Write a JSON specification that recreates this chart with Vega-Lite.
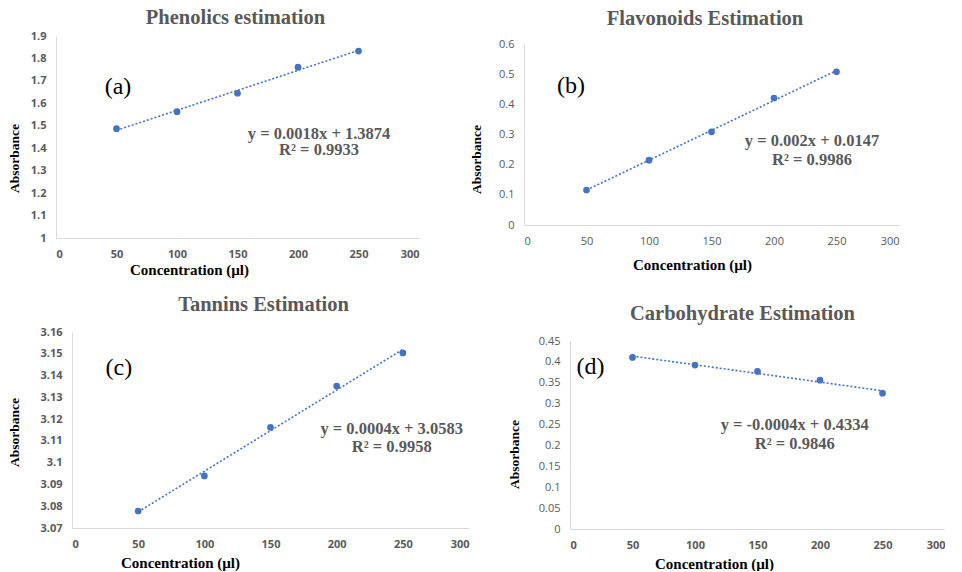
{
  "$schema": "https://vega.github.io/schema/vega-lite/v6.json",
  "background": "white",
  "padding": {"left": 7, "top": 8, "right": 0, "bottom": 0},
  "config": {
    "view": {"stroke": null},
    "axis": {
      "grid": false, "ticks": false, "domainColor": "#d9d9d9", "domainWidth": 1, "labelOverlap": false,
      "labelFont": "Open Sans", "labelFontSize": 11, "labelColor": "#595959", "labelPadding": 10,
      "titleFont": "Liberation Serif", "titleFontWeight": "bold", "titleColor": "#000000", "titleFontSize": 15
    },
    "axisY": {"titleFontSize": 13.5, "titleAlign": "center", "titleBaseline": "middle", "titleAngle": -90},
    "axisX": {"titleAlign": "center", "titleBaseline": "middle"},
    "title": {"font": "Liberation Serif", "fontSize": 20.5, "fontWeight": "bold", "color": "#595959", "frame": "group", "anchor": "middle"}
  },
  "concat": [
    {
      "concat": [
        {
          "width": 363, "height": 202,
          "title": {"text": "Phenolics estimation", "dx": -2, "offset": 1.5},
          "data": {"values": [
            {"conc": 50, "abs": 1.487}, {"conc": 100, "abs": 1.563}, {"conc": 150, "abs": 1.645},
            {"conc": 200, "abs": 1.761}, {"conc": 250, "abs": 1.833}
          ]},
          "layer": [
            {"encoding": {
               "x": {"field": "conc", "type": "quantitative", "scale": {"domain": [0, 300], "nice": false},
                     "axis": {"title": "Concentration (µl)", "values": [0, 50, 100, 150, 200, 250, 300], "labelOverlap": false, "labelFontWeight": "bold", "titleX": 133, "titleY": 31}},
               "y": {"field": "abs", "type": "quantitative", "scale": {"domain": [1, 1.9], "nice": false, "zero": false},
                     "axis": {"title": "Absorbance", "values": [1, 1.1, 1.2, 1.3, 1.4, 1.5, 1.6, 1.7, 1.8, 1.9], "format": ".1~f", "labelOverlap": false, "labelFontWeight": "bold", "titleX": -42, "titleY": 122}}
             },
             "layer": [
               {"transform": [{"regression": "abs", "on": "conc"}],
                "mark": {"type": "line", "color": "#4472C4", "strokeDash": [2, 2], "strokeWidth": 1.6}},
               {"mark": {"type": "point", "filled": true, "size": 45, "color": "#4472C4", "opacity": 1}}
             ]},
            {"data": {"values": [{"label": "(a)"}]},
             "mark": {"type": "text", "font": "Liberation Serif", "fontSize": 24, "color": "#000000", "align": "center", "baseline": "middle"},
             "encoding": {
               "x": {"datum": 51.2, "type": "quantitative", "axis": {"title": "Concentration (µl)", "values": [0, 50, 100, 150, 200, 250, 300], "labelOverlap": false, "labelFontWeight": "bold", "titleX": 133, "titleY": 31}},
               "y": {"datum": 1.673, "type": "quantitative", "axis": {"title": "Absorbance", "values": [1, 1.1, 1.2, 1.3, 1.4, 1.5, 1.6, 1.7, 1.8, 1.9], "format": ".1~f", "labelOverlap": false, "labelFontWeight": "bold", "titleX": -42, "titleY": 122}},
               "text": {"field": "label"}}},
            {"data": {"values": [{"label": "y = 0.0018x + 1.3874"}]},
             "mark": {"type": "text", "font": "Liberation Serif", "fontSize": 16.5, "fontWeight": "bold", "color": "#595959", "align": "center", "baseline": "middle"},
             "encoding": {
               "x": {"datum": 217.4, "type": "quantitative", "axis": {"title": "Concentration (µl)", "values": [0, 50, 100, 150, 200, 250, 300], "labelOverlap": false, "labelFontWeight": "bold", "titleX": 133, "titleY": 31}},
               "y": {"datum": 1.4634, "type": "quantitative", "axis": {"title": "Absorbance", "values": [1, 1.1, 1.2, 1.3, 1.4, 1.5, 1.6, 1.7, 1.8, 1.9], "format": ".1~f", "labelOverlap": false, "labelFontWeight": "bold", "titleX": -42, "titleY": 122}},
               "text": {"field": "label"}}},
            {"data": {"values": [{"label": "R² = 0.9933"}]},
             "mark": {"type": "text", "font": "Liberation Serif", "fontSize": 16.5, "fontWeight": "bold", "color": "#595959", "align": "center", "baseline": "middle"},
             "encoding": {
               "x": {"datum": 217.4, "type": "quantitative", "axis": {"title": "Concentration (µl)", "values": [0, 50, 100, 150, 200, 250, 300], "labelOverlap": false, "labelFontWeight": "bold", "titleX": 133, "titleY": 31}},
               "y": {"datum": 1.392, "type": "quantitative", "axis": {"title": "Absorbance", "values": [1, 1.1, 1.2, 1.3, 1.4, 1.5, 1.6, 1.7, 1.8, 1.9], "format": ".1~f", "labelOverlap": false, "labelFontWeight": "bold", "titleX": -42, "titleY": 122}},
               "text": {"field": "label"}}}
          ]
        },
        {
          "width": 375, "height": 189,
          "title": {"text": "Flavonoids Estimation", "dx": -6.5, "offset": 7},
          "data": {"values": [
            {"conc": 50, "abs": 0.116}, {"conc": 100, "abs": 0.215}, {"conc": 150, "abs": 0.309},
            {"conc": 200, "abs": 0.421}, {"conc": 250, "abs": 0.508}
          ]},
          "layer": [
            {"encoding": {
               "x": {"field": "conc", "type": "quantitative", "scale": {"domain": [0, 300], "nice": false},
                     "axis": {"title": "Concentration (µl)", "values": [0, 50, 100, 150, 200, 250, 300], "labelOverlap": false, "titleX": 168, "titleY": 39}},
               "y": {"field": "abs", "type": "quantitative", "scale": {"domain": [0, 0.6], "nice": false, "range": [189, 8]},
                     "axis": {"title": "Absorbance", "values": [0, 0.1, 0.2, 0.3, 0.4, 0.5, 0.6], "format": ".1~f", "labelOverlap": false, "titleX": -48, "titleY": 123}}
             },
             "layer": [
               {"transform": [{"regression": "abs", "on": "conc"}],
                "mark": {"type": "line", "color": "#4472C4", "strokeDash": [2, 2], "strokeWidth": 1.6}},
               {"mark": {"type": "point", "filled": true, "size": 45, "color": "#4472C4", "opacity": 1}}
             ]},
            {"data": {"values": [{"label": "(b)"}]},
             "mark": {"type": "text", "font": "Liberation Serif", "fontSize": 24, "color": "#000000", "align": "center", "baseline": "middle"},
             "encoding": {
               "x": {"datum": 37.6, "type": "quantitative", "axis": {"title": "Concentration (µl)", "values": [0, 50, 100, 150, 200, 250, 300], "labelOverlap": false, "titleX": 168, "titleY": 39}},
               "y": {"datum": 0.462, "type": "quantitative", "axis": {"title": "Absorbance", "values": [0, 0.1, 0.2, 0.3, 0.4, 0.5, 0.6], "format": ".1~f", "labelOverlap": false, "titleX": -48, "titleY": 123}},
               "text": {"field": "label"}}},
            {"data": {"values": [{"label": "y = 0.002x + 0.0147"}]},
             "mark": {"type": "text", "font": "Liberation Serif", "fontSize": 16.5, "fontWeight": "bold", "color": "#595959", "align": "center", "baseline": "middle"},
             "encoding": {
               "x": {"datum": 230.4, "type": "quantitative", "axis": {"title": "Concentration (µl)", "values": [0, 50, 100, 150, 200, 250, 300], "labelOverlap": false, "titleX": 168, "titleY": 39}},
               "y": {"datum": 0.28, "type": "quantitative", "axis": {"title": "Absorbance", "values": [0, 0.1, 0.2, 0.3, 0.4, 0.5, 0.6], "format": ".1~f", "labelOverlap": false, "titleX": -48, "titleY": 123}},
               "text": {"field": "label"}}},
            {"data": {"values": [{"label": "R² = 0.9986"}]},
             "mark": {"type": "text", "font": "Liberation Serif", "fontSize": 16.5, "fontWeight": "bold", "color": "#595959", "align": "center", "baseline": "middle"},
             "encoding": {
               "x": {"datum": 230.4, "type": "quantitative", "axis": {"title": "Concentration (µl)", "values": [0, 50, 100, 150, 200, 250, 300], "labelOverlap": false, "titleX": 168, "titleY": 39}},
               "y": {"datum": 0.217, "type": "quantitative", "axis": {"title": "Absorbance", "values": [0, 0.1, 0.2, 0.3, 0.4, 0.5, 0.6], "format": ".1~f", "labelOverlap": false, "titleX": -48, "titleY": 123}},
               "text": {"field": "label"}}}
          ]
        }
      ],
      "columns": 2, "spacing": 50
    },
    {
      "concat": [
        {
          "width": 413, "height": 196,
          "title": {"text": "Tannins Estimation", "dx": 1, "offset": 10.5},
          "data": {"values": [
            {"conc": 50, "abs": 3.0778}, {"conc": 100, "abs": 3.0939}, {"conc": 150, "abs": 3.1162},
            {"conc": 200, "abs": 3.1352}, {"conc": 250, "abs": 3.1504}
          ]},
          "layer": [
            {"encoding": {
               "x": {"field": "conc", "type": "quantitative", "scale": {"domain": [0, 300], "nice": false, "range": [16, 413]},
                     "axis": {"title": "Concentration (µl)", "values": [0, 50, 100, 150, 200, 250, 300], "labelOverlap": false, "labelFontWeight": "bold", "titleX": 124, "titleY": 34}},
               "y": {"field": "abs", "type": "quantitative", "scale": {"domain": [3.07, 3.16], "nice": false, "zero": false},
                     "axis": {"title": "Absorbance", "values": [3.07, 3.08, 3.09, 3.1, 3.11, 3.12, 3.13, 3.14, 3.15, 3.16], "format": ".2~f", "labelOverlap": false, "labelFontWeight": "bold", "offset": -16, "titleX": -58, "titleY": 100}}
             },
             "layer": [
               {"transform": [{"regression": "abs", "on": "conc"}],
                "mark": {"type": "line", "color": "#4472C4", "strokeDash": [2, 2], "strokeWidth": 1.6}},
               {"mark": {"type": "point", "filled": true, "size": 45, "color": "#4472C4", "opacity": 1}}
             ]},
            {"data": {"values": [{"label": "(c)"}]},
             "mark": {"type": "text", "font": "Liberation Serif", "fontSize": 24, "color": "#000000", "align": "center", "baseline": "middle"},
             "encoding": {
               "x": {"datum": 35.4, "type": "quantitative", "axis": {"title": "Concentration (µl)", "values": [0, 50, 100, 150, 200, 250, 300], "labelOverlap": false, "labelFontWeight": "bold", "titleX": 124, "titleY": 34}},
               "y": {"datum": 3.1436, "type": "quantitative", "axis": {"title": "Absorbance", "values": [3.07, 3.08, 3.09, 3.1, 3.11, 3.12, 3.13, 3.14, 3.15, 3.16], "format": ".2~f", "labelOverlap": false, "labelFontWeight": "bold", "offset": -16, "titleX": -58, "titleY": 100}},
               "text": {"field": "label"}}},
            {"data": {"values": [{"label": "y = 0.0004x + 3.0583"}]},
             "mark": {"type": "text", "font": "Liberation Serif", "fontSize": 16.5, "fontWeight": "bold", "color": "#595959", "align": "center", "baseline": "middle"},
             "encoding": {
               "x": {"datum": 241.6, "type": "quantitative", "axis": {"title": "Concentration (µl)", "values": [0, 50, 100, 150, 200, 250, 300], "labelOverlap": false, "labelFontWeight": "bold", "titleX": 124, "titleY": 34}},
               "y": {"datum": 3.1156, "type": "quantitative", "axis": {"title": "Absorbance", "values": [3.07, 3.08, 3.09, 3.1, 3.11, 3.12, 3.13, 3.14, 3.15, 3.16], "format": ".2~f", "labelOverlap": false, "labelFontWeight": "bold", "offset": -16, "titleX": -58, "titleY": 100}},
               "text": {"field": "label"}}},
            {"data": {"values": [{"label": "R² = 0.9958"}]},
             "mark": {"type": "text", "font": "Liberation Serif", "fontSize": 16.5, "fontWeight": "bold", "color": "#595959", "align": "center", "baseline": "middle"},
             "encoding": {
               "x": {"datum": 241.6, "type": "quantitative", "axis": {"title": "Concentration (µl)", "values": [0, 50, 100, 150, 200, 250, 300], "labelOverlap": false, "labelFontWeight": "bold", "titleX": 124, "titleY": 34}},
               "y": {"datum": 3.107, "type": "quantitative", "axis": {"title": "Absorbance", "values": [3.07, 3.08, 3.09, 3.1, 3.11, 3.12, 3.13, 3.14, 3.15, 3.16], "format": ".2~f", "labelOverlap": false, "labelFontWeight": "bold", "offset": -16, "titleX": -58, "titleY": 100}},
               "text": {"field": "label"}}}
          ]
        },
        {
          "width": 375, "height": 197,
          "title": {"text": "Carbohydrate Estimation", "dx": -15, "offset": 8},
          "data": {"values": [
            {"conc": 50, "abs": 0.4108}, {"conc": 100, "abs": 0.3924}, {"conc": 150, "abs": 0.3772},
            {"conc": 200, "abs": 0.3563}, {"conc": 250, "abs": 0.3251}
          ]},
          "layer": [
            {"encoding": {
               "x": {"field": "conc", "type": "quantitative", "scale": {"domain": [0, 300], "nice": false},
                     "axis": {"title": "Concentration (µl)", "values": [0, 50, 100, 150, 200, 250, 300], "labelOverlap": false, "labelFontWeight": "bold", "titleX": 144, "titleY": 34}},
               "y": {"field": "abs", "type": "quantitative", "scale": {"domain": [0, 0.45], "nice": false, "range": [197, 9]},
                     "axis": {"title": "Absorbance", "values": [0, 0.05, 0.1, 0.15, 0.2, 0.25, 0.3, 0.35, 0.4, 0.45], "format": ".2~f", "labelOverlap": false, "titleX": -56, "titleY": 122}}
             },
             "layer": [
               {"transform": [{"regression": "abs", "on": "conc"}],
                "mark": {"type": "line", "color": "#4472C4", "strokeDash": [2, 2], "strokeWidth": 1.6}},
               {"mark": {"type": "point", "filled": true, "size": 45, "color": "#4472C4", "opacity": 1}}
             ]},
            {"data": {"values": [{"label": "(d)"}]},
             "mark": {"type": "text", "font": "Liberation Serif", "fontSize": 24, "color": "#000000", "align": "center", "baseline": "middle"},
             "encoding": {
               "x": {"datum": 16.3, "type": "quantitative", "axis": {"title": "Concentration (µl)", "values": [0, 50, 100, 150, 200, 250, 300], "labelOverlap": false, "labelFontWeight": "bold", "titleX": 144, "titleY": 34}},
               "y": {"datum": 0.3885, "type": "quantitative", "axis": {"title": "Absorbance", "values": [0, 0.05, 0.1, 0.15, 0.2, 0.25, 0.3, 0.35, 0.4, 0.45], "format": ".2~f", "labelOverlap": false, "titleX": -56, "titleY": 122}},
               "text": {"field": "label"}}},
            {"data": {"values": [{"label": "y = -0.0004x + 0.4334"}]},
             "mark": {"type": "text", "font": "Liberation Serif", "fontSize": 16.5, "fontWeight": "bold", "color": "#595959", "align": "center", "baseline": "middle"},
             "encoding": {
               "x": {"datum": 179.8, "type": "quantitative", "axis": {"title": "Concentration (µl)", "values": [0, 50, 100, 150, 200, 250, 300], "labelOverlap": false, "labelFontWeight": "bold", "titleX": 144, "titleY": 34}},
               "y": {"datum": 0.248, "type": "quantitative", "axis": {"title": "Absorbance", "values": [0, 0.05, 0.1, 0.15, 0.2, 0.25, 0.3, 0.35, 0.4, 0.45], "format": ".2~f", "labelOverlap": false, "titleX": -56, "titleY": 122}},
               "text": {"field": "label"}}},
            {"data": {"values": [{"label": "R² = 0.9846"}]},
             "mark": {"type": "text", "font": "Liberation Serif", "fontSize": 16.5, "fontWeight": "bold", "color": "#595959", "align": "center", "baseline": "middle"},
             "encoding": {
               "x": {"datum": 179.8, "type": "quantitative", "axis": {"title": "Concentration (µl)", "values": [0, 50, 100, 150, 200, 250, 300], "labelOverlap": false, "labelFontWeight": "bold", "titleX": 144, "titleY": 34}},
               "y": {"datum": 0.2042, "type": "quantitative", "axis": {"title": "Absorbance", "values": [0, 0.05, 0.1, 0.15, 0.2, 0.25, 0.3, 0.35, 0.4, 0.45], "format": ".2~f", "labelOverlap": false, "titleX": -56, "titleY": 122}},
               "text": {"field": "label"}}}
          ]
        }
      ],
      "columns": 2, "spacing": 38
    }
  ],
  "columns": 1, "spacing": 18
}
